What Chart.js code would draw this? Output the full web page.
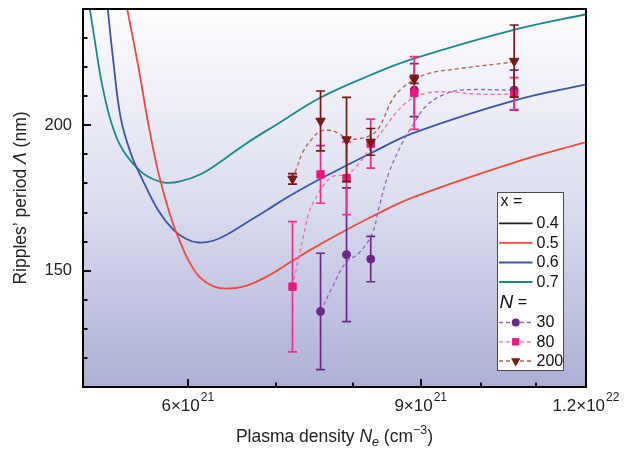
<!DOCTYPE html>
<html>
<head>
<meta charset="utf-8">
<script src="https://cdn.jsdelivr.net/npm/chart.js@4/dist/chart.umd.min.js"></script>
<style>
  html, body { margin: 0; padding: 0; background: #ffffff; }
  #wrap { width: 636px; height: 450px; position: relative; }
</style>
</head>
<body>
<div id="wrap"><canvas id="c"></canvas></div>
<script>
const FONT = '"Liberation Sans", Arial, Helvetica, sans-serif';

// Plasma density in units of 10^21 cm^-3, ripple period in nm.

// Theoretical period curves for each composition x
const densityX04 = [];   // x = 0.4 stays above the plotted period range
const periodX04 = [];
const densityX05 = [5.40, 5.51, 5.60, 5.70, 5.82, 5.92, 6.02, 6.13, 6.27, 6.42, 6.64, 6.88, 7.20, 7.45, 7.81, 8.25, 8.89, 10.59, 12.0];
const periodX05  = [240, 219.3, 200.9, 183.8, 169.0, 160.0, 152.8, 147.6, 144.7, 143.8, 144.8, 147.9, 153.4, 157.5, 162.7, 168.4, 175.3, 187.2, 194.2];
const densityX06 = [5.22, 5.27, 5.34, 5.44, 5.54, 5.70, 5.85, 5.98, 6.11, 6.27, 6.45, 6.64, 6.88, 7.12, 7.45, 7.81, 8.25, 8.89, 10.60, 12.0];
const periodX06  = [240, 222.4, 202.4, 189.7, 181.7, 170.7, 164.1, 161.0, 159.7, 160.3, 162.9, 166.4, 170.7, 175.0, 180.1, 184.9, 190.4, 197.4, 208.6, 214.1];
const densityX07 = [5.06, 5.11, 5.17, 5.26, 5.36, 5.53, 5.67, 5.78, 5.92, 6.13, 6.34, 6.64, 7.04, 7.55, 8.25, 8.89, 10.60, 12.0];
const periodX07  = [240, 227.6, 213.8, 200, 191.4, 184.1, 181.2, 180.2, 180.7, 183.1, 187.2, 193.7, 200.9, 209.4, 217.3, 222.9, 232.9, 238.2];

// Measured periods with error bars for each pulse number N
const densityN30  = [7.56, 7.91, 8.25, 8.90, 10.59];
const periodN30   = [136.0, 155.5, 154.0, 212.1, 212.1];
const errorN30    = [20.0, 23.0, 7.8, 9.1, 6.9];
const densityN80  = [7.20, 7.56, 7.91, 8.25, 8.90, 10.59];
const periodN80   = [144.5, 183.1, 181.8, 193.7, 211.1, 210.9];
const errorN80    = [22.4, 9.9, 12.5, 8.4, 12.5, 5.5];
const densityN200 = [7.20, 7.56, 7.91, 8.25, 8.90, 10.59];
const periodN200  = [181.6, 201.5, 195.1, 194.3, 215.8, 222.1];
const errorN200   = [1.8, 10.3, 14.5, 4.6, 1.4, 12.4];

// Smoothed guide curves through the measurements
const fitDensityN30  = [7.56, 7.72, 7.90, 8.08, 8.27, 8.37, 8.51, 8.71, 8.86, 9.07, 9.34, 9.66, 10.59];
const fitPeriodN30   = [136.0, 144.5, 152.8, 156.0, 162.7, 171.8, 183.3, 193.7, 199.4, 206.3, 210.3, 212.1, 212.1];
const fitDensityN80  = [7.20, 7.28, 7.35, 7.41, 7.48, 7.63, 7.76, 7.90, 8.08, 8.25, 8.46, 8.76, 9.07, 9.44, 9.95, 10.59];
const fitPeriodN80   = [144.5, 154.8, 163.2, 170.1, 174.1, 180.4, 182.8, 182.8, 186.8, 192.5, 199.4, 207.5, 210.9, 211.5, 210.7, 210.7];
const fitDensityN200 = [7.20, 7.25, 7.33, 7.45, 7.56, 7.67, 7.81, 7.92, 8.08, 8.25, 8.37, 8.56, 8.71, 8.89, 9.12, 9.66, 10.24, 10.59];
const fitPeriodN200  = [181.6, 185.1, 190.8, 195.4, 198.0, 198.3, 197.1, 195.4, 195.4, 196.6, 199.2, 208.6, 212.7, 215.5, 217.8, 219.6, 221.0, 221.8];

// Axis ticks
const xTickValues = [6, 7, 8, 9, 10, 11, 12];
const xLabelValues = [6, 9, 12];
const xLabelMantissa = ['6×10', '9×10', '1.2×10'];
const xLabelExponent = ['21', '21', '22'];
const yMajorTicks = [150, 200];

const xLegendLabels = ['0.4', '0.5', '0.6', '0.7'];
const nLegendLabels = ['30', '80', '200'];

const C = {
  x04: '#231f20', x05: '#f04a3a', x06: '#3b55a6', x07: '#178b89',
  n30: '#6a2a84', n30dash: '#9763b4',
  n80: '#e8197d', n80bar: '#ee2f8c', n80dash: '#f36aa8',
  n200: '#7a1717', n200dash: '#a8604e'
};

const pts = (xs, ys) => xs.map((x, i) => ({ x: x, y: ys[i] }));

function theoryLine(label, xs, ys, color) {
  return { label, data: pts(xs, ys), showLine: true, borderColor: color, backgroundColor: color,
           borderWidth: 1.8, pointRadius: 0, tension: 0.4, order: 3 };
}
function fitLine(label, xs, ys, color) {
  return { label, data: pts(xs, ys), showLine: true, borderColor: color, backgroundColor: color,
           borderWidth: 1.3, borderDash: [4, 3], pointRadius: 0, tension: 0.4, order: 2 };
}
function markers(label, xs, ys, errs, color, barColor, style, radius, rotation, order) {
  return { label, data: pts(xs, ys), errors: errs, barColor, showLine: false,
           pointStyle: style, pointRadius: radius, pointRotation: rotation,
           pointBackgroundColor: color, pointBorderColor: color, pointBorderWidth: 1, order };
}

const datasets = [
  theoryLine('x = 0.4', densityX04, periodX04, C.x04),
  theoryLine('x = 0.5', densityX05, periodX05, C.x05),
  theoryLine('x = 0.6', densityX06, periodX06, C.x06),
  theoryLine('x = 0.7', densityX07, periodX07, C.x07),
  fitLine('N = 30 fit', fitDensityN30, fitPeriodN30, C.n30dash),
  fitLine('N = 80 fit', fitDensityN80, fitPeriodN80, C.n80dash),
  fitLine('N = 200 fit', fitDensityN200, fitPeriodN200, C.n200dash),
  markers('N = 30', densityN30, periodN30, errorN30, C.n30, C.n30, 'circle', 4, 0, 1.2),
  markers('N = 80', densityN80, periodN80, errorN80, C.n80, C.n80bar, 'rect', 5.2, 0, 1.1),
  markers('N = 200', densityN200, periodN200, errorN200, C.n200, C.n200, 'triangle', 5.4, 180, 1.0)
];

// Plot background: white fading to lavender towards the bottom
const backgroundPlugin = {
  id: 'plotBackground',
  beforeDraw(chart) {
    const { ctx, chartArea: a } = chart;
    const g = ctx.createLinearGradient(0, a.top, 0, a.bottom);
    g.addColorStop(0, '#fdfdfe');
    g.addColorStop(0.5, '#dcdef0');
    g.addColorStop(1, '#adafd6');
    ctx.save();
    ctx.fillStyle = g;
    ctx.fillRect(a.left, a.top, a.right - a.left, a.bottom - a.top);
    ctx.restore();
  }
};

// Vertical error bars with caps, drawn just before each marker set
const errorBarPlugin = {
  id: 'errorBars',
  beforeDatasetDraw(chart, args) {
    const ds = chart.data.datasets[args.index];
    if (!ds.errors) return;
    const { ctx, chartArea: a } = chart;
    const ys = chart.scales.y;
    ctx.save();
    ctx.beginPath();
    ctx.rect(a.left, a.top, a.right - a.left, a.bottom - a.top);
    ctx.clip();
    ctx.strokeStyle = ds.barColor;
    ctx.lineWidth = 1.7;
    args.meta.data.forEach((el, i) => {
      const v = ds.data[i].y, e = ds.errors[i];
      const yTop = ys.getPixelForValue(v + e);
      const yBot = ys.getPixelForValue(v - e);
      const x = el.x, cap = 4.5;
      ctx.beginPath();
      ctx.moveTo(x, yTop); ctx.lineTo(x, yBot);
      ctx.moveTo(x - cap, yTop); ctx.lineTo(x + cap, yTop);
      ctx.moveTo(x - cap, yBot); ctx.lineTo(x + cap, yBot);
      ctx.stroke();
    });
    ctx.restore();
  }
};

function drawMarker(ctx, style, x, y, r, color) {
  ctx.fillStyle = color;
  ctx.beginPath();
  if (style === 'circle') {
    ctx.arc(x, y, r, 0, Math.PI * 2);
  } else if (style === 'rect') {
    const s = r * Math.SQRT1_2;
    ctx.rect(x - s, y - s, 2 * s, 2 * s);
  } else {
    // downward triangle
    ctx.moveTo(x, y + r);
    ctx.lineTo(x - r * Math.cos(Math.PI / 6), y - r / 2);
    ctx.lineTo(x + r * Math.cos(Math.PI / 6), y - r / 2);
    ctx.closePath();
  }
  ctx.fill();
}

function drawRich(ctx, parts, cx, baseline) {
  let total = 0;
  parts.forEach(p => { ctx.font = p.f; p.w = ctx.measureText(p.t).width; total += p.w; });
  let x = cx - total / 2;
  ctx.textAlign = 'left';
  ctx.textBaseline = 'alphabetic';
  ctx.fillStyle = '#222';
  parts.forEach(p => { ctx.font = p.f; ctx.fillText(p.t, x, baseline + p.dy); x += p.w; });
}

// Frame, inward ticks, x tick labels, axis titles and the key
const decorPlugin = {
  id: 'decor',
  afterDraw(chart) {
    const { ctx, chartArea: a } = chart;
    const xs = chart.scales.x, ys = chart.scales.y;
    ctx.save();

    // inward tick marks
    ctx.strokeStyle = '#111';
    ctx.lineWidth = 2;
    ctx.beginPath();
    for (let v = 120; v <= 230; v += 10) {
      const y = Math.round(ys.getPixelForValue(v));
      const len = yMajorTicks.includes(v) ? 8 : 4.5;
      ctx.moveTo(a.left, y); ctx.lineTo(a.left + len, y);
    }
    xTickValues.forEach(v => {
      const x = Math.round(xs.getPixelForValue(v));
      const len = xLabelValues.includes(v) ? 8 : 4.5;
      ctx.moveTo(x, a.bottom); ctx.lineTo(x, a.bottom - len);
    });
    ctx.stroke();

    // frame
    ctx.lineWidth = 2;
    ctx.strokeStyle = '#000';
    ctx.strokeRect(a.left, a.top, a.right - a.left, a.bottom - a.top);

    // x tick labels with superscript exponents
    ctx.fillStyle = '#222';
    ctx.textBaseline = 'alphabetic';
    ctx.textAlign = 'left';
    xLabelValues.forEach((v, i) => {
      const cx = xs.getPixelForValue(v);
      ctx.font = `17px ${FONT}`;
      const wb = ctx.measureText(xLabelMantissa[i]).width;
      ctx.font = `12px ${FONT}`;
      const we = ctx.measureText(xLabelExponent[i]).width;
      const x0 = cx - (wb + we + 1) / 2;
      ctx.font = `17px ${FONT}`;
      ctx.fillText(xLabelMantissa[i], x0, 411);
      ctx.font = `12px ${FONT}`;
      ctx.fillText(xLabelExponent[i], x0 + wb + 1, 401);
    });

    // x axis title: Plasma density N_e (cm^-3)
    const xParts = [
      { t: 'Plasma density ', f: `17.5px ${FONT}`, dy: 0 },
      { t: 'N', f: `italic 17.5px ${FONT}`, dy: 0 },
      { t: 'e', f: `italic 12.5px ${FONT}`, dy: 4 },
      { t: ' (cm', f: `17.5px ${FONT}`, dy: 0 },
      { t: '−3', f: `12.5px ${FONT}`, dy: -8 },
      { t: ')', f: `17.5px ${FONT}`, dy: 0 }
    ];
    drawRich(ctx, xParts, (a.left + a.right) / 2, 442);

    // y axis title
    ctx.save();
    ctx.translate(25.5, (a.top + a.bottom) / 2);
    ctx.rotate(-Math.PI / 2);
    const yParts = [
      { t: 'Ripples’ period ', f: `17.5px ${FONT}`, dy: 0 },
      { t: 'Λ', f: `italic 17.5px ${FONT}`, dy: 0 },
      { t: ' (nm)', f: `17.5px ${FONT}`, dy: 0 }
    ];
    drawRich(ctx, yParts, 0, 0);
    ctx.restore();

    // key
    const L = 497.5, T = 192.5, W = 66, H = 178;
    ctx.fillStyle = '#ffffff';
    ctx.fillRect(L, T, W, H);
    ctx.lineWidth = 1;
    ctx.strokeStyle = '#4a4a4a';
    ctx.strokeRect(L, T, W, H);

    const rowY = [203, 223.3, 242.8, 262.5, 282, 302.5, 322.5, 341.8, 361];
    const sx0 = L + 1.5, sx1 = L + 35, tx = L + 39;
    ctx.textBaseline = 'middle';
    ctx.fillStyle = '#111';
    ctx.font = `16px ${FONT}`;
    ctx.fillText('x =', L + 3, rowY[0] - 1);

    const lineColors = [C.x04, C.x05, C.x06, C.x07];
    xLegendLabels.forEach((lab, i) => {
      const y = rowY[i + 1];
      ctx.strokeStyle = lineColors[i];
      ctx.lineWidth = 1.8;
      ctx.setLineDash([]);
      ctx.beginPath(); ctx.moveTo(sx0, y); ctx.lineTo(sx1, y); ctx.stroke();
      ctx.fillStyle = '#111';
      ctx.font = `16px ${FONT}`;
      ctx.fillText(lab, tx, y + 0.5);
    });

    ctx.font = `italic 19px ${FONT}`;
    ctx.fillStyle = '#111';
    ctx.fillText('N', L + 2, rowY[5]);
    const nw = ctx.measureText('N').width;
    ctx.font = `16px ${FONT}`;
    ctx.fillText(' =', L + 2 + nw, rowY[5]);

    const dashColors = [C.n30dash, C.n80dash, C.n200dash];
    const markColors = [C.n30, C.n80, C.n200];
    const markStyles = ['circle', 'rect', 'triangle'];
    const markR = [4, 5.2, 5.4];
    nLegendLabels.forEach((lab, i) => {
      const y = rowY[i + 6];
      ctx.strokeStyle = dashColors[i];
      ctx.lineWidth = 1.3;
      ctx.setLineDash([4, 3]);
      ctx.beginPath(); ctx.moveTo(sx0, y); ctx.lineTo(sx1, y); ctx.stroke();
      ctx.setLineDash([]);
      drawMarker(ctx, markStyles[i], (sx0 + sx1) / 2, y, markR[i], markColors[i]);
      ctx.fillStyle = '#111';
      ctx.font = `16px ${FONT}`;
      ctx.fillText(lab, tx, y + 0.5);
    });

    ctx.restore();
  }
};

new Chart(document.getElementById('c'), {
  type: 'scatter',
  data: { datasets },
  options: {
    responsive: true,
    maintainAspectRatio: false,
    animation: false,
    events: [],
    layout: { padding: { top: 9, right: 50, left: 0, bottom: 0 } },
    plugins: { legend: { display: false }, tooltip: { enabled: false } },
    scales: {
      x: {
        type: 'logarithmic',
        min: 5, max: 12,
        grid: { display: false, drawTicks: false },
        border: { display: false },
        ticks: { display: false },
        afterFit(scale) { scale.height = 63; scale.paddingLeft = 0; scale.paddingRight = 0; }
      },
      y: {
        type: 'linear',
        min: 110, max: 240,
        grid: { display: false, drawTicks: false },
        border: { display: false },
        ticks: {
          stepSize: 10,
          padding: 11,
          color: '#222',
          font: { family: FONT, size: 16.5, lineHeight: 1.1 },
          callback: v => (yMajorTicks.includes(v) ? String(v) : '')
        },
        afterFit(scale) { scale.width = 83; scale.paddingTop = 0; scale.paddingBottom = 0; }
      }
    }
  },
  plugins: [backgroundPlugin, errorBarPlugin, decorPlugin]
});
</script>
</body>
</html>
